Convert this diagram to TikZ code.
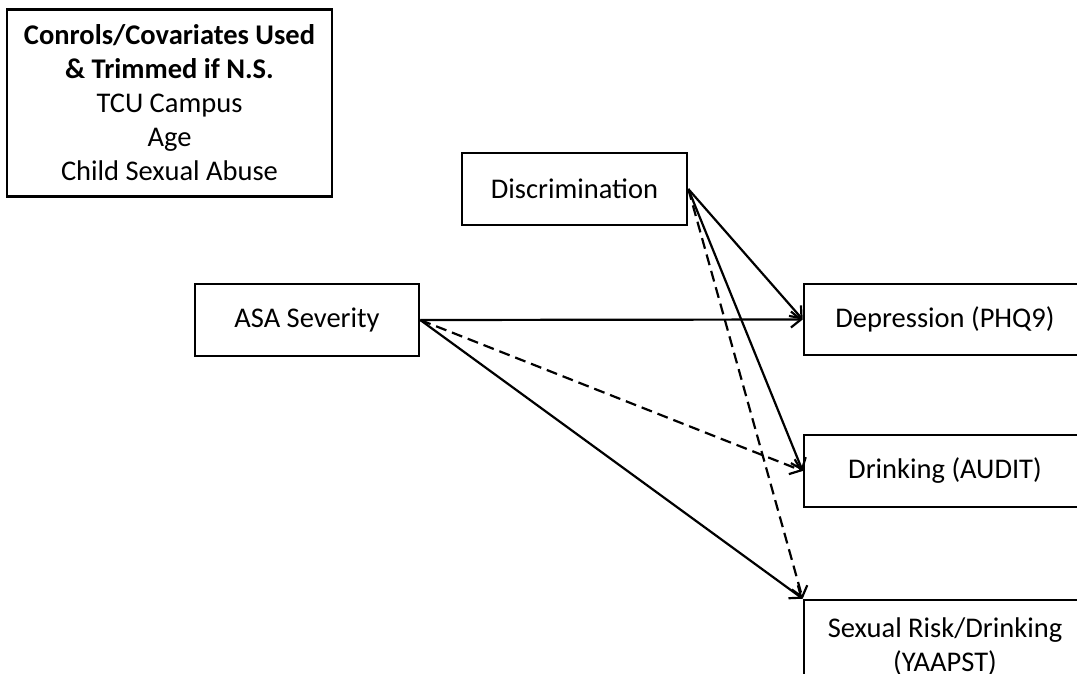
\documentclass[tikz,border=0pt]{standalone}
\usepackage{fontspec}
\setmainfont{Carlito}
\usetikzlibrary{arrows.meta}
\begin{document}
\begin{tikzpicture}[x=1pt,y=-1pt,
  box/.style={draw, line width=2.6pt, inner sep=0pt, align=center, font=\fontsize{28.5}{34}\selectfont},
  arr/.style={line width=2.2pt, -{Straight Barb[length=10pt,width=16pt,line width=2.2pt]}},
  dsh/.style={arr, dash pattern=on 11pt off 6pt}]
\useasboundingbox (0,0) rectangle (1077,673);
\begin{scope}
\clip (0,0) rectangle (1077,673);
\node[box, minimum width=325pt, minimum height=187pt] (ctrl) at (169.5,103)
  {\textbf{Conrols/Covariates Used}\\\textbf{\& Trimmed if N.S.}\\TCU Campus\\Age\\Child Sexual Abuse};
\node[box, minimum width=225pt, minimum height=72pt] (disc) at (574.5,189) {Discrimination};
\node[box, minimum width=224pt, minimum height=72pt] (asa) at (307,320) {ASA Severity};
\node[box, minimum width=282pt, minimum height=71pt] (dep) at (945,319.5) {Depression (PHQ9)};
\node[box, minimum width=282pt, minimum height=72pt] (drink) at (945,471) {Drinking (AUDIT)};
\node[box, minimum width=282pt, minimum height=94pt] (sex) at (945,647) {Sexual Risk/Drinking\\(YAAPST)};
\draw[arr] (disc.east) -- (dep.west);
\draw[arr] (disc.east) -- (drink.west);
\draw[dsh] (disc.east) -- (sex.north west);
\draw[arr] (asa.east) -- (dep.west);
\draw[dsh] (asa.east) -- (drink.west);
\draw[arr] (asa.east) -- (sex.north west);
\end{scope}
\end{tikzpicture}
\end{document}
